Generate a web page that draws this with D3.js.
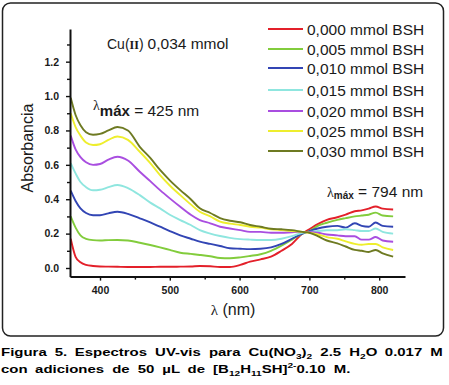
<!DOCTYPE html>
<html>
<head>
<meta charset="utf-8">
<script src="https://cdn.jsdelivr.net/npm/d3@7"></script>
<style>
  html, body { margin: 0; padding: 0; background: #fff; }
  svg { display: block; }
  text { font-family: "Liberation Sans", Arial, sans-serif; }
</style>
</head>
<body>
<div id="chart"></div>
<script>
// ---------- data ----------
const wavelengths = [358, 365, 372, 380, 390, 400, 412, 425, 440, 457, 472, 486, 500, 515, 530, 543, 558, 572, 586, 601, 615, 630, 645, 660, 675, 690, 700, 712, 725, 740, 752, 765, 775, 785, 795, 805, 820];

const abs000 = [0.17, 0.065, 0.033, 0.018, 0.012, 0.009, 0.008, 0.007, 0.006, 0.006, 0.006, 0.007, 0.007, 0.008, 0.009, 0.012, 0.010, 0.006, 0.006, 0.018, 0.037, 0.050, 0.066, 0.100, 0.140, 0.200, 0.225, 0.255, 0.280, 0.295, 0.310, 0.330, 0.335, 0.345, 0.358, 0.345, 0.340];
const abs005 = [0.30, 0.235, 0.19, 0.17, 0.162, 0.16, 0.162, 0.163, 0.16, 0.147, 0.134, 0.12, 0.105, 0.089, 0.082, 0.076, 0.068, 0.058, 0.057, 0.062, 0.070, 0.080, 0.100, 0.130, 0.165, 0.200, 0.215, 0.245, 0.263, 0.280, 0.290, 0.300, 0.305, 0.310, 0.322, 0.305, 0.300];
const abs010 = [0.45, 0.39, 0.347, 0.32, 0.307, 0.307, 0.318, 0.327, 0.315, 0.289, 0.265, 0.24, 0.215, 0.19, 0.17, 0.153, 0.14, 0.128, 0.115, 0.112, 0.110, 0.112, 0.120, 0.140, 0.170, 0.200, 0.215, 0.230, 0.240, 0.245, 0.235, 0.260, 0.245, 0.240, 0.265, 0.245, 0.240];
const abs015 = [0.61, 0.55, 0.50, 0.47, 0.452, 0.455, 0.47, 0.483, 0.465, 0.424, 0.38, 0.347, 0.31, 0.279, 0.25, 0.22, 0.20, 0.186, 0.175, 0.168, 0.165, 0.163, 0.163, 0.170, 0.185, 0.205, 0.210, 0.215, 0.220, 0.220, 0.225, 0.220, 0.215, 0.215, 0.230, 0.210, 0.200];
const abs020 = [0.77, 0.69, 0.645, 0.615, 0.60, 0.605, 0.63, 0.647, 0.625, 0.56, 0.505, 0.453, 0.405, 0.356, 0.31, 0.279, 0.26, 0.24, 0.23, 0.22, 0.21, 0.21, 0.205, 0.205, 0.208, 0.21, 0.21, 0.205, 0.195, 0.19, 0.185, 0.185, 0.165, 0.165, 0.18, 0.16, 0.153];
const abs025 = [0.90, 0.82, 0.77, 0.73, 0.715, 0.72, 0.745, 0.765, 0.745, 0.676, 0.61, 0.54, 0.48, 0.424, 0.37, 0.327, 0.30, 0.27, 0.258, 0.25, 0.24, 0.235, 0.225, 0.22, 0.215, 0.21, 0.205, 0.195, 0.18, 0.17, 0.155, 0.14, 0.135, 0.14, 0.14, 0.12, 0.105];
const abs030 = [0.99, 0.89, 0.83, 0.79, 0.775, 0.78, 0.80, 0.82, 0.80, 0.705, 0.64, 0.57, 0.51, 0.453, 0.40, 0.347, 0.32, 0.29, 0.275, 0.266, 0.25, 0.24, 0.228, 0.225, 0.22, 0.21, 0.205, 0.185, 0.16, 0.143, 0.125, 0.105, 0.10, 0.093, 0.105, 0.085, 0.066];

const seriesNames = ["0,000 mmol BSH", "0,005 mmol BSH", "0,010 mmol BSH", "0,015 mmol BSH", "0,020 mmol BSH", "0,025 mmol BSH", "0,030 mmol BSH"];
const seriesValues = [abs000, abs005, abs010, abs015, abs020, abs025, abs030];
const seriesColors = ["#e3202a", "#82cc3c", "#3245b4", "#8fe6df", "#a94ee0", "#eeee2e", "#6e7a22"];

const xTicks = [400, 500, 600, 700, 800];
const xMinorTicks = [450, 550, 650, 750];
const yTicks = [0.0, 0.2, 0.4, 0.6, 0.8, 1.0, 1.2];
const yMinorTicks = [0.1, 0.3, 0.5, 0.7, 0.9, 1.1, 1.3];

// ---------- drawing ----------
const W = 449, H = 385;
const svg = d3.select("#chart").append("svg").attr("width", W).attr("height", H);

// frame
svg.append("rect").attr("x", 2.5).attr("y", 3).attr("width", 441).attr("height", 333)
  .attr("rx", 8).attr("ry", 8).attr("fill", "#fff").attr("stroke", "#222").attr("stroke-width", 1.5);

const x = d3.scaleLinear().domain([357, 837]).range([70, 405]);
const y = d3.scaleLinear().domain([-0.05, 1.39]).range([276.6, 29]);

// curves
const line = d3.line().x(d => x(d[0])).y(d => y(d[1])).curve(d3.curveMonotoneX);
seriesValues.forEach((vals, i) => {
  const pts = wavelengths.map((w, k) => [w, vals[k]]);
  svg.append("path").datum(pts).attr("d", line)
    .attr("fill", "none").attr("stroke", seriesColors[i]).attr("stroke-width", 1.9)
    .attr("stroke-linejoin", "round");
});

// axes
svg.append("g").attr("transform", `translate(0,${y(-0.05)})`)
  .call(d3.axisBottom(x).tickValues(xTicks).tickFormat(d3.format("d")).tickSize(4).tickPadding(6).tickSizeOuter(0));
svg.append("g").attr("transform", `translate(0,${y(-0.05)})`)
  .call(d3.axisBottom(x).tickValues(xMinorTicks).tickFormat("").tickSize(3).tickSizeOuter(0))
  .select(".domain").remove();
svg.append("g").attr("transform", `translate(${x(357)},0)`)
  .call(d3.axisLeft(y).tickValues(yTicks).tickFormat(d3.format(".1f")).tickSize(4).tickPadding(7).tickSizeOuter(0));
svg.append("g").attr("transform", `translate(${x(357)},0)`)
  .call(d3.axisLeft(y).tickValues(yMinorTicks).tickFormat("").tickSize(3).tickSizeOuter(0))
  .select(".domain").remove();

svg.selectAll(".domain").attr("stroke", "#111").attr("stroke-width", 2);
svg.selectAll(".tick line").attr("stroke", "#111").attr("stroke-width", 1.4);
svg.selectAll(".tick text").attr("font-family", "'Liberation Sans', Arial, sans-serif")
  .attr("font-size", 10.5).attr("font-weight", "bold").attr("fill", "#1a1a1a");

// axis titles
svg.append("text").attr("transform", "translate(33,148) rotate(-90)")
  .attr("text-anchor", "middle").attr("font-size", 16).attr("fill", "#1a1a1a").text("Absorbancia");
const xt = svg.append("text").attr("x", 233).attr("y", 315).attr("text-anchor", "middle").attr("fill", "#1a1a1a");
xt.append("tspan").attr("font-family", "'Liberation Serif', serif").attr("font-size", 15).text("λ");
xt.append("tspan").attr("font-size", 16).text(" (nm)");

// legend
const legendY = [29, 49, 68, 90, 111, 131, 151];
seriesNames.forEach((name, i) => {
  const g = svg.append("g").attr("transform", `translate(0,${legendY[i]})`);
  g.append("line").attr("x1", 268).attr("x2", 303).attr("y1", 0).attr("y2", 0)
    .attr("stroke", seriesColors[i]).attr("stroke-width", 1.8);
  g.append("text").attr("x", 307).attr("y", 5.8).attr("font-size", 15.5).attr("fill", "#1a1a1a").text(name);
});

// annotations
const cu = svg.append("text").attr("x", 107).attr("y", 49).attr("fill", "#1a1a1a");
cu.append("tspan").attr("font-size", 14).text("Cu(");
cu.append("tspan").attr("font-family", "'Liberation Serif', serif").attr("font-weight", "bold").attr("font-size", 12).text("II");
cu.append("tspan").attr("font-size", 14).text(")");
cu.append("tspan").attr("font-size", 15.5).attr("dx", 4).text("0,034 mmol");

const l1 = svg.append("text").attr("x", 93).attr("y", 116).attr("fill", "#1a1a1a");
l1.append("tspan").attr("font-family", "'Liberation Serif', serif").attr("font-size", 14).attr("dy", -6).text("λ");
l1.append("tspan").attr("font-size", 15).attr("font-weight", "bold").attr("dy", 6).text("máx");
l1.append("tspan").attr("font-size", 15.5).text(" = 425 nm");

const l2 = svg.append("text").attr("x", 327).attr("y", 197).attr("fill", "#1a1a1a");
l2.append("tspan").attr("font-family", "'Liberation Serif', serif").attr("font-size", 14).text("λ");
l2.append("tspan").attr("font-size", 10).attr("font-weight", "bold").attr("dy", 2).text("máx");
l2.append("tspan").attr("font-size", 15.5).attr("dy", -2).text(" = 794 nm");

// caption (justified first line)
const capFont = "'DejaVu Sans', Verdana, sans-serif";
const capLine1 = [["Figura"], ["5."], ["Espectros"], ["UV-vis"], ["para"],
  ["Cu(NO", ["3", "sub"], ")", ["2", "sub"]], ["2.5"], ["H", ["2", "sub"], "O"], ["0.017"], ["M"]];
const capLine2 = [["con"], ["adiciones"], ["de"], ["50"], ["µL"], ["de"],
  ["[B", ["12", "sub"], "H", ["11", "sub"], "SH]", ["2-", "sup"], "0.10"], ["M."]];

function drawWord(g, parts) {
  const t = g.append("text").attr("font-family", capFont).attr("font-weight", "bold")
    .attr("font-size", 11.8).attr("fill", "#000");
  let shift = 0;
  parts.forEach(p => {
    if (typeof p === "string") {
      t.append("tspan").attr("dy", -shift).text(p); shift = 0;
    } else {
      const s = p[1] === "sub" ? 3 : -5;
      t.append("tspan").attr("font-size", 8).attr("dy", s - shift).text(p[0]); shift = s;
    }
  });
  return t;
}
const capGap = 7.5;
function drawLine(words, baseline, scaleIn) {
  const g = svg.append("g");
  const texts = words.map(w => drawWord(g, w));
  const widths = texts.map(t => t.node().getBBox().width);
  const total = d3.sum(widths);
  const left = 1, right = 443, avail = right - left;
  const scale = scaleIn || (avail - capGap * (words.length - 1)) / total;
  let cx = 0;
  texts.forEach((t, i) => { t.attr("x", cx).attr("y", 0); cx += widths[i] + capGap / scale; });
  g.attr("transform", `translate(${left},${baseline}) scale(${scale},1)`);
  return scale;
}
const sc = drawLine(capLine1, 356);
drawLine(capLine2, 373, sc);
</script>
</body>
</html>
